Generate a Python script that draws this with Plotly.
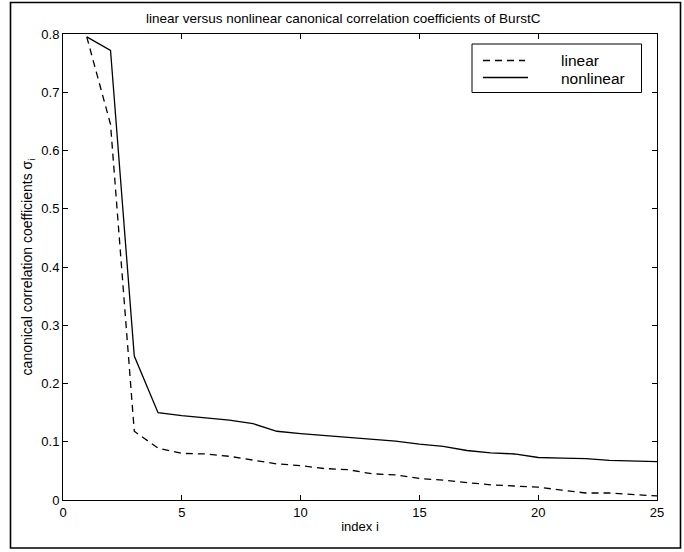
import plotly.graph_objects as go

index_i = list(range(1, 26))
linear = [0.795, 0.645, 0.118, 0.089, 0.080, 0.079, 0.075, 0.069, 0.062, 0.059,
          0.054, 0.052, 0.045, 0.043, 0.037, 0.034, 0.030, 0.026, 0.024, 0.022,
          0.017, 0.012, 0.012, 0.010, 0.007]
nonlinear = [0.795, 0.772, 0.247, 0.150, 0.145, 0.141, 0.137, 0.131, 0.118, 0.114,
             0.111, 0.108, 0.104, 0.101, 0.096, 0.092, 0.085, 0.081, 0.079, 0.073,
             0.072, 0.071, 0.068, 0.067, 0.066]
x_ticks = [0, 5, 10, 15, 20, 25]
y_ticks = [0, 0.1, 0.2, 0.3, 0.4, 0.5, 0.6, 0.7, 0.8]
y_tick_text = ["0", "0.1", "0.2", "0.3", "0.4", "0.5", "0.6", "0.7", "0.8"]
series_names = ["linear", "nonlinear"]

FONT = "Liberation Sans, Arial, sans-serif"

fig = go.Figure()
fig.add_trace(go.Scatter(x=index_i, y=linear, mode="lines", name=series_names[0],
                         line=dict(color="black", width=1.3, dash="7px,5px"),
                         showlegend=False))
fig.add_trace(go.Scatter(x=index_i, y=nonlinear, mode="lines", name=series_names[1],
                         line=dict(color="black", width=1.3),
                         showlegend=False))

W, H = 684, 552
L, R, T, B = 63, 27, 34, 52
pw, ph = W - L - R, H - T - B

def px(xp):
    return (xp - L) / pw

def py(yp):
    return (H - B - yp) / ph

shapes = []
# outer frame
shapes.append(dict(type="rect", xref="paper", yref="paper",
                   x0=px(10.5), x1=px(680.5), y0=py(548), y1=py(2.5),
                   line=dict(color="black", width=1.6), layer="above"))
# legend box
shapes.append(dict(type="rect", xref="paper", yref="paper",
                   x0=px(472), x1=px(641.5), y0=py(92.5), y1=py(44),
                   line=dict(color="black", width=1), fillcolor="white"))
# legend samples
shapes.append(dict(type="line", xref="paper", yref="paper",
                   x0=px(483), x1=px(525), y0=py(60.5), y1=py(60.5),
                   line=dict(color="black", width=1.3, dash="7px,5px")))
shapes.append(dict(type="line", xref="paper", yref="paper",
                   x0=px(483), x1=px(528), y0=py(77.5), y1=py(77.5),
                   line=dict(color="black", width=1.3)))

annotations = []
for name, yp in zip(series_names, [60, 78]):
    annotations.append(dict(xref="paper", yref="paper", x=px(560), y=py(yp),
                            text=name, showarrow=False, xanchor="left",
                            yanchor="middle", borderpad=0,
                            font=dict(family=FONT, size=15.5, color="black")))

fig.update_layout(
    width=W, height=H,
    margin=dict(l=L, r=R, t=T, b=B, pad=0),
    paper_bgcolor="white", plot_bgcolor="white",
    font=dict(family=FONT, size=13, color="black"),
    title=dict(text="linear versus nonlinear canonical correlation coefficients of BurstC",
               x=px(361), xanchor="center", y=1 - 18 / H, yanchor="middle",
               font=dict(family=FONT, size=13.5, color="black")),
    shapes=shapes,
    annotations=annotations,
    xaxis=dict(range=[0, 25], tickmode="array", tickvals=x_ticks,
               ticks="inside", ticklen=5, tickcolor="black", mirror="ticks",
               showline=True, linecolor="black", linewidth=1, showgrid=False,
               zeroline=False, tickfont=dict(size=13),
               title=dict(text="index i", standoff=3, font=dict(size=13))),
    yaxis=dict(range=[0, 0.8], tickmode="array", tickvals=y_ticks,
               ticktext=y_tick_text,
               ticks="inside", ticklen=5, tickcolor="black", mirror="ticks",
               showline=True, linecolor="black", linewidth=1, showgrid=False,
               zeroline=False, tickfont=dict(size=13),
               title=dict(text="canonical correlation coefficients σ<sub>i</sub>",
                          standoff=5, font=dict(size=14))),
)

fig.write_html("out.html", config={"displayModeBar": False},
               post_script="document.body.style.margin='0';document.body.style.overflow='hidden';")
